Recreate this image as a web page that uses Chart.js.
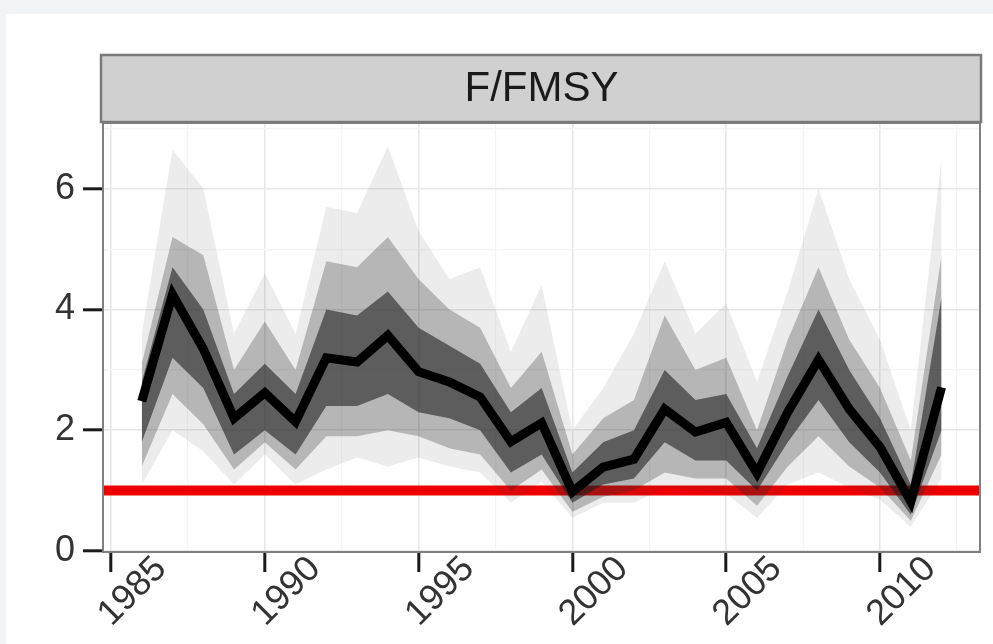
<!DOCTYPE html>
<html>
<head>
<meta charset="utf-8">
<script src="https://cdn.jsdelivr.net/npm/chart.js@4.4.1/dist/chart.umd.min.js"></script>
<style>
  html, body { margin: 0; padding: 0; background: #f1f4f6; width: 993px; height: 644px; overflow: hidden; }
  #panel { position: absolute; left: 6px; top: 14px; width: 987px; height: 630px; background: #ffffff; }
  #c { position: absolute; left: 0; top: 0; }
</style>
</head>
<body>
<div id="panel"></div>
<canvas id="c" width="993" height="644"></canvas>
<script>
// ---- data ----
const years     = [1986,1987,1988,1989,1990,1991,1992,1993,1994,1995,1996,1997,1998,1999,2000,2001,2002,2003,2004,2005,2006,2007,2008,2009,2010,2011,2012];
const medianF   = [2.48,4.25,3.35,2.20,2.62,2.14,3.20,3.13,3.57,2.97,2.80,2.55,1.81,2.12,0.98,1.39,1.52,2.35,1.97,2.13,1.29,2.30,3.17,2.35,1.72,0.82,2.71];
const outerHi   = [3.6,6.65,6.0,3.6,4.6,3.6,5.7,5.6,6.7,5.3,4.5,4.7,3.3,4.4,2.0,2.7,3.6,4.8,3.6,4.1,2.8,4.3,6.0,4.5,3.5,2.0,6.5];
const midHi     = [3.1,5.2,4.9,3.0,3.8,3.0,4.8,4.7,5.2,4.5,4.0,3.7,2.7,3.3,1.6,2.2,2.5,3.9,3.0,3.2,2.0,3.5,4.7,3.5,2.7,1.5,4.9];
const coreHi    = [2.8,4.7,4.0,2.6,3.1,2.6,4.0,3.9,4.3,3.7,3.4,3.1,2.3,2.7,1.3,1.8,2.0,3.0,2.5,2.6,1.7,2.9,4.0,3.0,2.2,1.1,4.2];
const coreLo    = [1.8,3.2,2.7,1.6,2.0,1.6,2.4,2.4,2.6,2.3,2.2,2.0,1.3,1.6,0.8,1.1,1.2,1.8,1.5,1.5,1.0,1.8,2.5,1.8,1.3,0.6,2.0];
const midLo     = [1.4,2.6,2.1,1.35,1.8,1.35,1.9,1.9,2.0,1.9,1.7,1.6,1.0,1.35,0.65,0.9,1.0,1.3,1.2,1.2,0.75,1.4,1.9,1.4,1.05,0.5,1.6];
const outerLo   = [1.1,2.0,1.65,1.1,1.6,1.1,1.35,1.55,1.4,1.55,1.4,1.3,0.8,1.15,0.55,0.8,0.8,1.05,1.0,0.95,0.55,1.1,1.3,1.05,0.85,0.4,1.2];
const refLevel  = 1;            // F = FMSY reference line
const xTicks    = [1985,1987.5,1990,1992.5,1995,1997.5,2000,2002.5,2005,2007.5,2010,2012.5];
const yTicks    = [0,1,2,3,4,5,6,7];
const stripTitle = 'F/FMSY';

const pts = arr => years.map((y, i) => ({ x: y, y: arr[i] }));

const band = (arr, color, fillTarget) => ({
  data: pts(arr), borderWidth: 0, pointRadius: 0, tension: 0,
  borderColor: 'rgba(0,0,0,0)', backgroundColor: color, fill: fillTarget
});

const FONT = "'Liberation Sans', Arial, Helvetica, sans-serif";

const decor = {
  id: 'decor',
  beforeDatasetsDraw(chart) {
    const { ctx, chartArea: a, scales: { y } } = chart;
    const py = y.getPixelForValue(refLevel);
    ctx.save();
    ctx.strokeStyle = '#ee0000';
    ctx.lineWidth = 10;
    ctx.beginPath(); ctx.moveTo(a.left, py); ctx.lineTo(a.right, py); ctx.stroke();
    ctx.restore();
  },
  afterDraw(chart) {
    const { ctx, chartArea: a } = chart;
    ctx.save();
    ctx.strokeStyle = '#808080';
    ctx.lineWidth = 2;
    ctx.strokeRect(a.left, a.top, a.right - a.left, a.bottom - a.top);
    const sx = a.left - 2, sy = 55, sw = a.right - a.left + 3, sh = a.top - 1 - sy;
    ctx.fillStyle = '#d0d0d0';
    ctx.fillRect(sx, sy, sw, sh);
    ctx.strokeStyle = '#7a7a7a';
    ctx.lineWidth = 2.5;
    ctx.strokeRect(sx, sy, sw, sh);
    ctx.fillStyle = '#1a1a1a';
    ctx.font = '42px ' + FONT;
    ctx.textAlign = 'center';
    ctx.textBaseline = 'middle';
    ctx.fillText(stripTitle, (a.left + a.right) / 2, sy + sh / 2 + 1);
    ctx.restore();
  }
};

new Chart(document.getElementById('c'), {
  type: 'line',
  data: {
    datasets: [
      { data: pts(medianF), borderColor: '#000000', borderWidth: 9, pointRadius: 0, tension: 0,
        borderJoinStyle: 'miter', borderCapStyle: 'butt', fill: false },
      band(coreHi, 'rgba(30,30,30,0.58)', '+1'),
      band(coreLo, 'rgba(0,0,0,0)', false),
      band(midHi, 'rgba(40,40,40,0.28)', '+1'),
      band(midLo, 'rgba(0,0,0,0)', false),
      band(outerHi, 'rgba(70,70,70,0.10)', '+1'),
      band(outerLo, 'rgba(0,0,0,0)', false)
    ]
  },
  options: {
    responsive: false,
    animation: false,
    events: [],
    layout: { padding: { left: 0, top: 123, right: 13, bottom: 0 } },
    plugins: { legend: { display: false }, tooltip: { enabled: false } },
    scales: {
      x: {
        type: 'linear', min: 1984.74, max: 2013.25, offset: false,
        afterBuildTicks: s => { s.ticks = xTicks.map(v => ({ value: v })); },
        afterFit: s => { s.height = 92; },
        border: { display: false },
        grid: {
          color: c => (c.tick && c.tick.value % 5 === 0) ? '#e8e8e8' : '#f4f4f4',
          lineWidth: c => (c.tick && c.tick.value % 5 === 0) ? 1.6 : 1.2,
          tickColor: c => (c.tick && c.tick.value % 5 === 0) ? '#1a1a1a' : 'rgba(0,0,0,0)',
          tickWidth: 3, tickLength: 20
        },
        ticks: {
          autoSkip: false, minRotation: 45, maxRotation: 45,
          padding: -24, labelOffset: 50,
          color: '#333333', font: { family: FONT, size: 36 },
          callback: v => (v % 5 === 0) ? String(v) : ''
        }
      },
      y: {
        type: 'linear', min: -0.017, max: 7.09,
        afterBuildTicks: s => { s.ticks = yTicks.map(v => ({ value: v })); },
        afterFit: s => { s.width = 103; },
        border: { display: false },
        grid: {
          color: c => (c.tick && c.tick.value % 2 === 0) ? '#e8e8e8' : '#f4f4f4',
          lineWidth: c => (c.tick && c.tick.value % 2 === 0) ? 1.6 : 1.2,
          tickColor: c => (c.tick && c.tick.value % 2 === 0) ? '#1a1a1a' : 'rgba(0,0,0,0)',
          tickWidth: 3, tickLength: 20
        },
        ticks: {
          padding: 8,
          color: '#333333', font: { family: FONT, size: 36 },
          callback: v => (v % 2 === 0) ? String(v) : ''
        }
      }
    }
  },
  plugins: [decor]
});
</script>
</body>
</html>
